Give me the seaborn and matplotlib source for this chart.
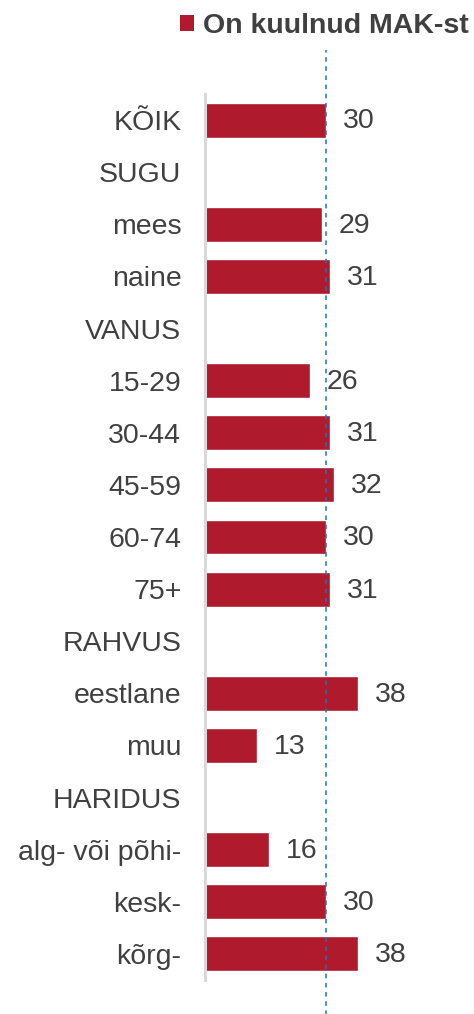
import numpy as np
import pandas as pd
import matplotlib
matplotlib.use("Agg")
import matplotlib.pyplot as plt
from matplotlib.patches import Patch
import seaborn as sns

categories = ["KÕIK", "SUGU", "mees", "naine", "VANUS", "15-29", "30-44", "45-59",
              "60-74", "75+", "RAHVUS", "eestlane", "muu", "HARIDUS",
              "alg- või põhi-", "kesk-", "kõrg-"]
values = [30, np.nan, 29, 31, np.nan, 26, 31, 32, 30, 31, np.nan, 38, 13, np.nan, 16, 30, 38]
series_name = "On kuulnud MAK-st"
reference = 30

bar_color = "#AF1A2D"
text_color = "#404040"

sns.set_style("white")
plt.rcParams["font.family"] = ["Liberation Sans", "DejaVu Sans"]

df = pd.DataFrame({"cat": categories, "val": values})

fig = plt.figure(figsize=(4.74, 10.14), dpi=100)
ax = fig.add_axes([205 / 474, 1 - 980 / 1014, 260 / 474, 886 / 1014])

sns.barplot(data=df, y="cat", x="val", order=categories, orient="h",
            color=bar_color, saturation=1, width=0.67, ax=ax)

ax.set_xlim(0, 64.5)
ax.set_ylim(len(categories) - 0.5, -0.5)
ax.set_xlabel("")
ax.set_ylabel("")
ax.set_xticks([])
ax.tick_params(axis="y", length=0, pad=17, labelsize=20.5, labelcolor=text_color)

for s in ["top", "right", "bottom"]:
    ax.spines[s].set_visible(False)
ax.spines["left"].set_color("#d9d9d9")
ax.spines["left"].set_linewidth(2.2)

for i, v in enumerate(values):
    if not np.isnan(v):
        ax.annotate(f"{v:.0f}", xy=(v, i), xytext=(12, -1), textcoords="offset points",
                    va="center", ha="left", fontsize=20.5, color=text_color)

ax.axvline(reference, ymin=-0.04, ymax=1.05, color="#1F6FC8", linestyle=(0, (3, 3)),
           linewidth=1.1, clip_on=False, zorder=5)

handle = Patch(facecolor=bar_color, edgecolor="none")
fig.legend([handle], [series_name], loc="center right", bbox_to_anchor=(1.012, 1 - 26 / 1014),
           frameon=False, handlelength=0.5, handleheight=0.5, handletextpad=0.3,
           prop={"weight": "bold", "size": 20.5}, labelcolor=text_color, borderaxespad=0.0)

fig.savefig("out.png", dpi=100)
